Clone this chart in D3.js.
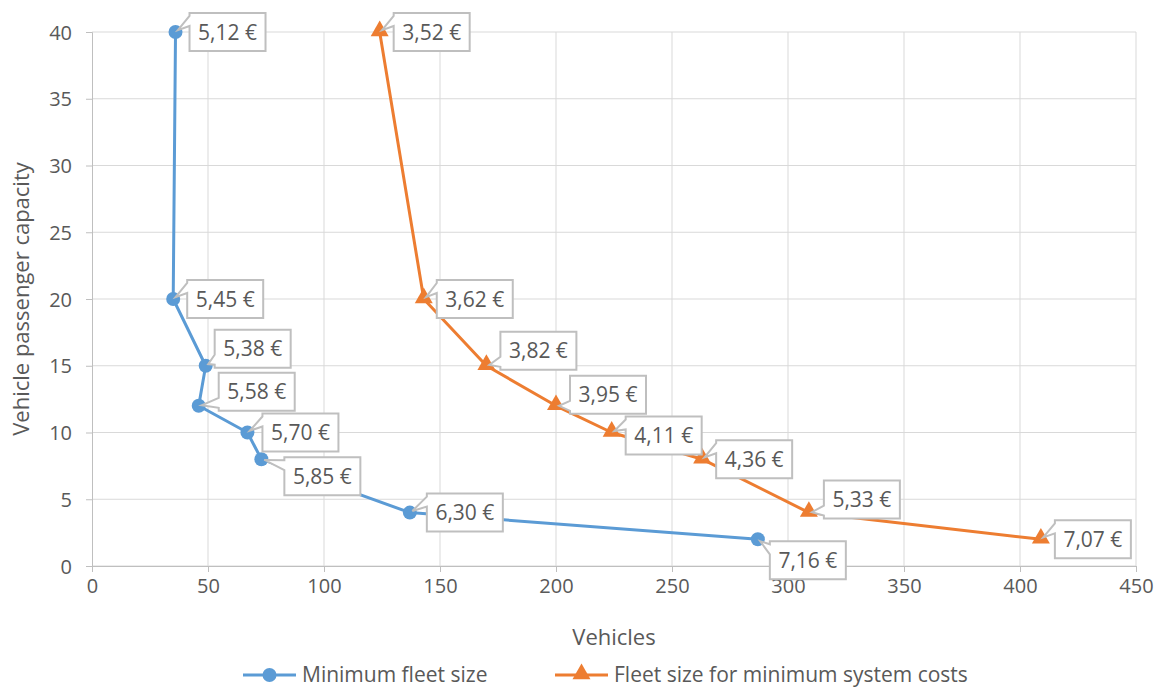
<!DOCTYPE html>
<html>
<head>
<meta charset="utf-8">
<script src="https://cdn.jsdelivr.net/npm/d3@7/dist/d3.min.js"></script>
<style>
  html, body { margin: 0; padding: 0; background: #fff; }
  svg text { font-family: "Open Sans", Lato, sans-serif; fill: #595959; }
</style>
</head>
<body>
<div id="chart"></div>
<script>
// chart data
const capacity = [40, 20, 15, 12, 10, 8, 4, 2];

const minFleetVehicles = [36, 35, 49, 46, 67, 73, 137, 287];
const minFleetCost = [5.12, 5.45, 5.38, 5.58, 5.70, 5.85, 6.30, 7.16];

const minCostVehicles = [124, 143, 170, 200, 224, 263, 309, 409];
const minCostCost = [3.52, 3.62, 3.82, 3.95, 4.11, 4.36, 5.33, 7.07];

const seriesNames = ["Minimum fleet size", "Fleet size for minimum system costs"];
const xTicks = [0, 50, 100, 150, 200, 250, 300, 350, 400, 450];
const yTicks = [0, 5, 10, 15, 20, 25, 30, 35, 40];

// label callout placement (box left offset, box centre offset) in px
const blueNudge = [[14, 0], [14, 0], [9, -17], [20, -14], [15, 0], [23, 17], [17, 0], [12, 21]];
const orangeNudge = [[14, 0], [13, 0], [14, -15], [14, -11], [14, 3], [14, 0], [15, -13], [14, 0]];

const width = 1162, height = 688;
const margin = { left: 92, right: 26, top: 32, bottom: 122 };

const svg = d3.select('#chart')
              .append('svg')
              .attr('width', width)
              .attr('height', height);

svg.append('rect').attr('width', width).attr('height', height).attr('fill', '#fff');

const xScale = d3.scaleLinear()
                 .domain([0, 450])
                 .range([margin.left, width - margin.right]);

const yScale = d3.scaleLinear()
                 .domain([0, 40])
                 .range([height - margin.bottom, margin.top]);

// gridlines
svg.append('g')
   .selectAll('line')
   .data(yTicks)
   .enter()
   .append('line')
   .attr('x1', xScale(0)).attr('x2', xScale(450))
   .attr('y1', d => yScale(d)).attr('y2', d => yScale(d))
   .attr('stroke', '#d9d9d9').attr('stroke-width', 1);

svg.append('g')
   .selectAll('line')
   .data(xTicks.slice(1))
   .enter()
   .append('line')
   .attr('x1', d => xScale(d)).attr('x2', d => xScale(d))
   .attr('y1', yScale(0)).attr('y2', yScale(40))
   .attr('stroke', '#d9d9d9').attr('stroke-width', 1);

// axes
const xAxis = svg.append('g')
   .attr('transform', `translate(0,${yScale(0)})`)
   .call(d3.axisBottom(xScale).tickValues(xTicks).tickSize(6).tickPadding(7));

const yAxis = svg.append('g')
   .attr('transform', `translate(${xScale(0)},0)`)
   .call(d3.axisLeft(yScale).tickValues(yTicks).tickSize(6).tickPadding(14));

[xAxis, yAxis].forEach(ax => {
    ax.select('.domain').attr('stroke', '#bfbfbf');
    ax.selectAll('.tick line').attr('stroke', '#bfbfbf');
    ax.selectAll('.tick text').attr('font-size', 20).attr('fill', '#595959')
      .style('font-family', '"Open Sans", Lato, sans-serif');
});
yAxis.selectAll('.tick text').attr('dy', '0.36em');

// axis titles
svg.append('text')
   .attr('x', (xScale(0) + xScale(450)) / 2)
   .attr('y', 645)
   .attr('text-anchor', 'middle')
   .attr('font-size', 22)
   .text('Vehicles');

svg.append('text')
   .attr('transform', `translate(29,${(yScale(0) + yScale(40)) / 2}) rotate(-90)`)
   .attr('text-anchor', 'middle')
   .attr('font-size', 22)
   .text('Vehicle passenger capacity');

const blue = '#5b9bd5', orange = '#ed7d31';

const series = [
    { name: seriesNames[0], xs: minFleetVehicles, cost: minFleetCost, color: blue, marker: 'circle', nudge: blueNudge },
    { name: seriesNames[1], xs: minCostVehicles, cost: minCostCost, color: orange, marker: 'triangle', nudge: orangeNudge }
];

const line = d3.line().x(d => xScale(d[0])).y(d => yScale(d[1]));
const tri = d3.symbol().type(d3.symbolTriangle).size(140);

function drawMarker(g, type, x, y, color) {
    if (type === 'circle') {
        g.append('circle').attr('cx', x).attr('cy', y).attr('r', 7).attr('fill', color);
    } else {
        g.append('path').attr('d', tri()).attr('transform', `translate(${x},${y - 1})`).attr('fill', color);
    }
}

series.forEach(s => {
    const pts = s.xs.map((x, i) => [x, capacity[i]]);
    svg.append('path')
       .datum(pts)
       .attr('d', line)
       .attr('fill', 'none')
       .attr('stroke', s.color)
       .attr('stroke-width', 3)
       .attr('stroke-linejoin', 'round');
    const mg = svg.append('g');
    pts.forEach(p => drawMarker(mg, s.marker, xScale(p[0]), yScale(p[1]), s.color));
});

// data label callouts
const fmt = v => v.toFixed(2).replace('.', ',') + ' €';

series.forEach(s => {
    s.xs.forEach((x, i) => {
        const px = xScale(x), py = yScale(capacity[i]);
        const [dx, dy] = s.nudge[i];
        const g = svg.append('g');
        const path = g.append('path');
        const t = g.append('text')
                   .attr('font-size', 21)
                   .attr('text-anchor', 'middle')
                   .text(fmt(s.cost[i]));
        const tw = t.node().getComputedTextLength();
        const w = Math.round(tw + 17), h = 38;
        const L = px + dx, R = L + w, T = py + dy - h / 2, B = T + h;
        t.attr('x', L + w / 2).attr('y', T + h / 2 + 7.5);
        let y1, y2;
        if (dy < -8) { y1 = B - 13; y2 = B - 3; } else { y1 = T + 3; y2 = T + 13; }
        const ang = Math.atan2(((y1 + y2) / 2) - py, L - px);
        const tx = px + Math.cos(ang) * 3, ty = py + Math.sin(ang) * 3;
        path.attr('d', `M${L},${T}H${R}V${B}H${L}V${y2}L${tx},${ty}L${L},${y1}Z`)
            .attr('fill', '#fff')
            .attr('stroke', '#bfbfbf')
            .attr('stroke-width', 2);
    });
});

// legend
const legend = svg.append('g');
const legendItems = [
    { x: 243, color: blue, marker: 'circle', name: seriesNames[0] },
    { x: 555, color: orange, marker: 'triangle', name: seriesNames[1] }
];
legendItems.forEach(it => {
    legend.append('line')
          .attr('x1', it.x).attr('x2', it.x + 53)
          .attr('y1', 675).attr('y2', 675)
          .attr('stroke', it.color).attr('stroke-width', 3);
    drawMarker(legend, it.marker, it.x + 26.5, 675, it.color);
    legend.append('text')
          .attr('x', it.x + 59)
          .attr('y', 682)
          .attr('font-size', 21)
          .text(it.name);
});
</script>
</body>
</html>
